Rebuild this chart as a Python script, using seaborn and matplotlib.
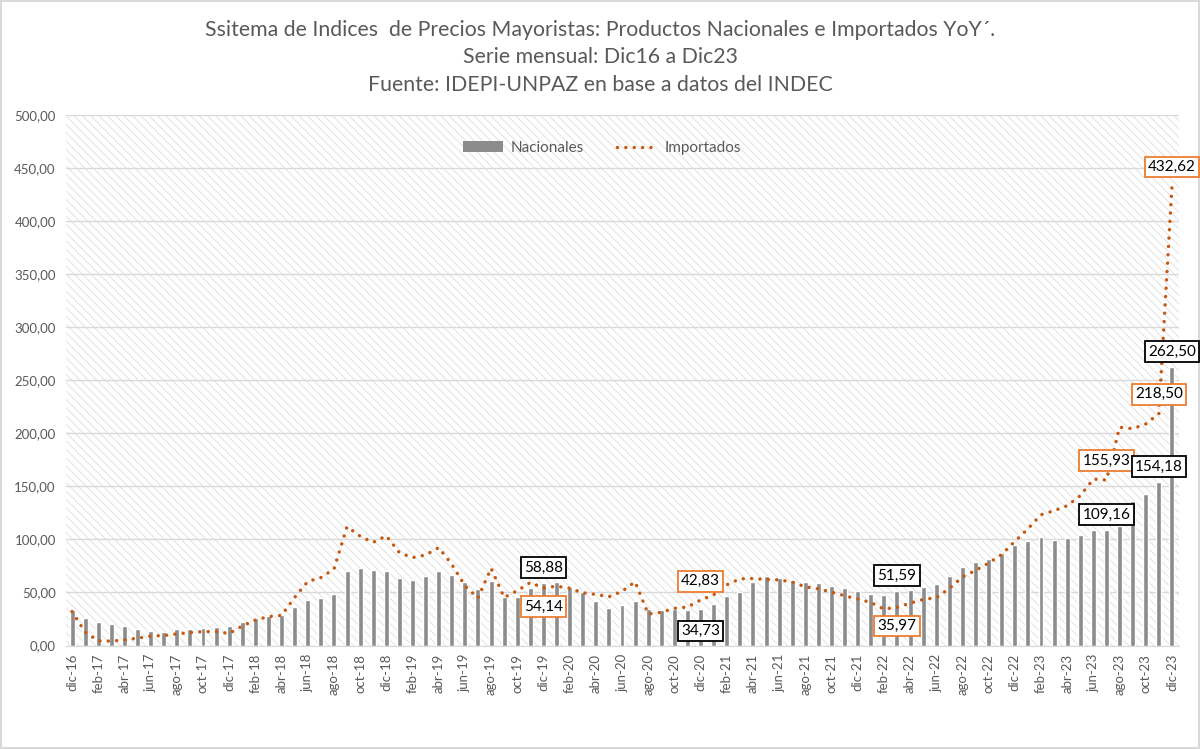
import pandas as pd
import numpy as np
import matplotlib
matplotlib.use("Agg")
import matplotlib.pyplot as plt
from matplotlib.patches import Patch, Rectangle
from matplotlib.lines import Line2D
import seaborn as sns

# meses dic-16 .. dic-23
meses_abr = ['ene', 'feb', 'mar', 'abr', 'may', 'jun', 'jul', 'ago', 'sep', 'oct', 'nov', 'dic']
meses = ['dic-16'] + [f'{m}-{a}' for a in range(17, 24) for m in meses_abr]

nacionales = [33.7,
              26.2, 21.9, 20.0, 18.8, 15.3, 14.0, 13.1, 15.3, 15.9, 16.9, 17.2, 18.8,
              22.2, 25.6, 27.5, 28.8, 36.3, 42.5, 45.0, 49.0, 70.3, 73.4, 71.6, 70.3,
              64.0, 62.2, 65.6, 70.3, 66.9, 60.3, 53.4, 61.0, 45.3, 45.6, 53.8, 58.88,
              59.4, 54.7, 50.6, 42.2, 35.6, 38.1, 42.2, 34.7, 33.8, 34.7, 33.4, 34.73,
              39.4, 46.3, 50.0, 60.3, 65.6, 64.0, 62.2, 60.3, 59.0, 56.3, 54.4, 50.9,
              49.0, 47.2, 51.59, 52.2, 55.0, 57.9, 65.1, 73.9, 78.6, 81.4, 87.4, 94.3,
              98.4, 102.5, 99.7, 100.9, 104.4, 109.1, 109.16, 113.0, 135.8, 142.8, 154.18, 262.50]

importados = [32.0,
              12.5, 4.4, 4.1, 5.3, 6.9, 8.8, 9.4, 10.9, 12.2, 13.1, 13.1, 11.3,
              18.4, 24.0, 27.2, 28.4, 45.3, 60.3, 64.0, 71.9, 112.0, 103.0, 97.2, 103.4,
              87.5, 82.8, 85.3, 92.2, 76.6, 56.3, 44.7, 72.8, 45.3, 51.6, 59.4, 54.14,
              55.9, 54.0, 49.7, 48.1, 45.9, 51.0, 60.0, 29.7, 31.3, 35.0, 36.3, 42.83,
              47.8, 57.2, 62.8, 63.1, 62.2, 61.9, 59.7, 55.3, 53.4, 50.3, 46.9, 43.8,
              40.6, 34.3, 35.97, 39.9, 43.4, 45.0, 53.8, 64.5, 70.8, 77.7, 85.8, 98.1,
              110.0, 123.3, 127.0, 131.8, 141.2, 156.9, 155.93, 205.7, 204.4, 208.8, 218.50, 432.62]

# meses con etiqueta de valor
etiquetas = ['dic-19', 'dic-20', 'mar-22', 'jul-23', 'nov-23', 'dic-23']

df = pd.DataFrame({'mes': meses, 'nac': nacionales, 'imp': importados})
df['idx'] = np.arange(len(df))

GRIS_TXT = '#595959'
GRIS_BAR = '#8c8c8c'
NARANJA = '#C55A11'
NARANJA_BORDE = '#ED7D31'

sns.set_style('white')
plt.rcParams['font.family'] = ['Lato', 'DejaVu Sans']
plt.rcParams['hatch.linewidth'] = 0.6

fig = plt.figure(figsize=(12, 7.49), dpi=100)
fig.patch.set_edgecolor('#d9d9d9')
fig.patch.set_linewidth(1.5)
ax = fig.add_axes([65.5 / 1200, 1 - 645.5 / 749, (1178.5 - 65.5) / 1200, (645.5 - 115) / 749])

# fondo rayado
ax.add_patch(Rectangle((0, 0), 1, 1, transform=ax.transAxes, facecolor='white',
                       edgecolor='#dedede', linewidth=0, hatch='\\' * 4, zorder=0))
ax.set_axisbelow(True)
ax.yaxis.grid(True, color='#d9d9d9', lw=1)

sns.barplot(data=df, x='mes', y='nac', color=GRIS_BAR, saturation=1, width=0.38, ax=ax, zorder=2)
sns.lineplot(data=df, x='idx', y='imp', color=NARANJA, lw=2.5, ax=ax, zorder=3,
             linestyle=(0, (0.01, 2.4)), dash_capstyle='round')

ax.set_xlim(-0.5, len(df) - 0.5)
ax.set_ylim(0, 500)
ax.set_xlabel('')
ax.set_ylabel('')

yt = np.arange(0, 501, 50)
ax.set_yticks(yt)
ax.set_yticklabels([f'{v:.2f}'.replace('.', ',') for v in yt], color=GRIS_TXT, fontsize=9.5)
ax.set_xticks(df['idx'][::2])
ax.set_xticklabels(df['mes'][::2], rotation=90, color=GRIS_TXT, fontsize=9.5)
ax.set_xticks(np.arange(-0.5, len(df), 2), minor=True)
ax.tick_params(axis='x', which='major', length=0, pad=6)
ax.tick_params(axis='x', which='minor', length=4, color='#d9d9d9', width=1)
ax.tick_params(axis='y', length=0, pad=7)
for s in ['left', 'right', 'top']:
    ax.spines[s].set_visible(False)
ax.spines['bottom'].set_color('#d9d9d9')

# etiquetas de datos
for mes in etiquetas:
    fila = df[df['mes'] == mes].iloc[0]
    i, vn, vi = fila['idx'], fila['nac'], fila['imp']
    if vi > vn + 10:
        off_n, off_i = 11, 14
    elif vi > vn:
        off_n, off_i = -16, 13.5
    else:
        off_n, off_i = 11, -13.5
    ax.annotate(f'{vn:.2f}'.replace('.', ','), (i, vn), xytext=(0, off_n), textcoords='offset points',
                ha='center', va='center', fontsize=11, color='black', zorder=5,
                bbox=dict(boxstyle='square,pad=0.22', fc='white', ec='black', lw=1.3))
    ax.annotate(f'{vi:.2f}'.replace('.', ','), (i, vi), xytext=(0, off_i), textcoords='offset points',
                ha='center', va='center', fontsize=11, color='black', zorder=5,
                bbox=dict(boxstyle='square,pad=0.22', fc='white', ec=NARANJA_BORDE, lw=1.3))

# titulo
titulos = ['Ssitema de Indices  de Precios Mayoristas: Productos Nacionales e Importados YoY´.',
           'Serie mensual: Dic16 a Dic23',
           'Fuente: IDEPI-UNPAZ en base a datos del INDEC']
for t, yp in zip(titulos, [30, 57, 85]):
    fig.text(0.5, 1 - yp / 749, t, ha='center', va='center', fontsize=15.3, color=GRIS_TXT)

handles = [Patch(facecolor=GRIS_BAR, edgecolor='none'),
           Line2D([], [], color=NARANJA, lw=2.5, linestyle=(0, (0.01, 2.4)), dash_capstyle='round')]
fig.legend(handles, ['Nacionales', 'Importados'], loc='center', bbox_to_anchor=(602 / 1200, 1 - 148 / 749),
           ncol=2, frameon=False, fontsize=11, labelcolor=GRIS_TXT, handlelength=2.6, columnspacing=2.2,
           handletextpad=0.5)

fig.savefig('out.png', dpi=100)
